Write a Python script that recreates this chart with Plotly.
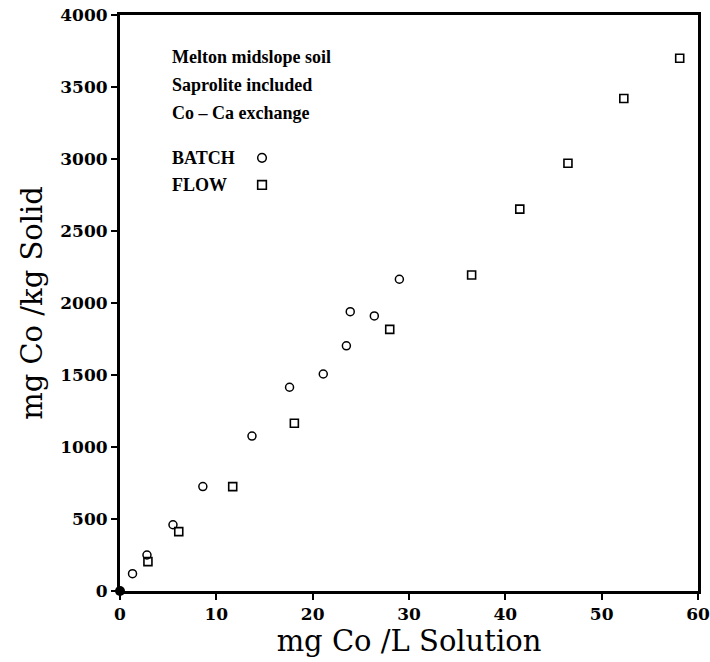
import plotly.graph_objects as go

# Co sorption isotherm, Melton midslope soil (saprolite included), Co-Ca exchange
batch_solution = [1.3, 2.8, 5.5, 8.6, 13.7, 17.6, 21.1, 23.5, 23.9, 26.4, 29.0]
batch_solid = [120, 250, 460, 725, 1076, 1415, 1507, 1703, 1940, 1910, 2165]

flow_solution = [2.9, 6.1, 11.7, 18.1, 28.0, 36.5, 41.5, 46.5, 52.3, 58.1]
flow_solid = [204, 412, 725, 1165, 1817, 2194, 2652, 2970, 3420, 3700]

origin_solution = [0]
origin_solid = [0]

x_ticks = [0, 10, 20, 30, 40, 50, 60]
y_ticks = [0, 500, 1000, 1500, 2000, 2500, 3000, 3500, 4000]

notes = ["Melton midslope soil", "Saprolite included", "Co \u2013 Ca exchange"]
key_labels = ["BATCH", "FLOW"]

SERIF = "DejaVu Serif"
TEXT_SERIF = "Liberation Serif"

fig = go.Figure()

fig.add_trace(go.Scatter(
    x=batch_solution, y=batch_solid, mode="markers", name="BATCH",
    marker=dict(symbol="circle-open", size=8, color="black", line=dict(width=1.5)),
))
fig.add_trace(go.Scatter(
    x=flow_solution, y=flow_solid, mode="markers", name="FLOW",
    marker=dict(symbol="square-open", size=8, color="black", line=dict(width=1.6)),
))
fig.add_trace(go.Scatter(
    x=origin_solution, y=origin_solid, mode="markers", cliponaxis=False,
    marker=dict(symbol="circle", size=10, color="black"),
))

# Annotation block in the upper-left corner of the plot
text_x = 0.087
note_y = [0.927, 0.878, 0.830]
for txt, yy in zip(notes, note_y):
    fig.add_annotation(x=text_x, y=yy, xref="paper", yref="paper", text=txt,
                       showarrow=False, xanchor="left", yanchor="middle",
                       font=dict(family=TEXT_SERIF, size=18, color="black", weight="bold"))

key_y = [0.752, 0.705]
for txt, yy in zip(key_labels, key_y):
    fig.add_annotation(x=text_x, y=yy, xref="paper", yref="paper", text=txt,
                       showarrow=False, xanchor="left", yanchor="middle",
                       font=dict(family=TEXT_SERIF, size=18, color="black", weight="bold"))

# Key symbols drawn next to the BATCH / FLOW labels
key_x = 0.2457
hw = 0.0075
hh = 0.0075
fig.add_shape(type="circle", xref="paper", yref="paper",
              x0=key_x - hw, x1=key_x + hw, y0=key_y[0] - hh, y1=key_y[0] + hh,
              line=dict(color="black", width=1.5))
fig.add_shape(type="rect", xref="paper", yref="paper",
              x0=key_x - hw, x1=key_x + hw, y0=key_y[1] - hh, y1=key_y[1] + hh,
              line=dict(color="black", width=1.6))

axis_common = dict(
    showgrid=False, zeroline=False, showline=True, linecolor="black", linewidth=3,
    mirror=True, ticks="outside", ticklen=6, tickwidth=1.5, tickcolor="black",
    automargin=False,
    tickfont=dict(family=SERIF, size=17, color="black", weight="bold"),
)

fig.update_xaxes(range=[0, 60], tickvals=x_ticks, ticktext=[str(v) for v in x_ticks],
                 title=dict(text="mg Co /L Solution", standoff=4,
                            font=dict(family=SERIF, size=29, color="black")),
                 **axis_common)
fig.update_yaxes(range=[0, 4000], tickvals=y_ticks, ticktext=[str(v) for v in y_ticks],
                 title=dict(text="mg Co /kg Solid", standoff=10,
                            font=dict(family=SERIF, size=29, color="black")),
                 **axis_common)

fig.update_layout(
    width=710, height=662, showlegend=False,
    paper_bgcolor="white", plot_bgcolor="white",
    margin=dict(l=120, r=12, t=15, b=71),
)

fig.write_html("out.html")
